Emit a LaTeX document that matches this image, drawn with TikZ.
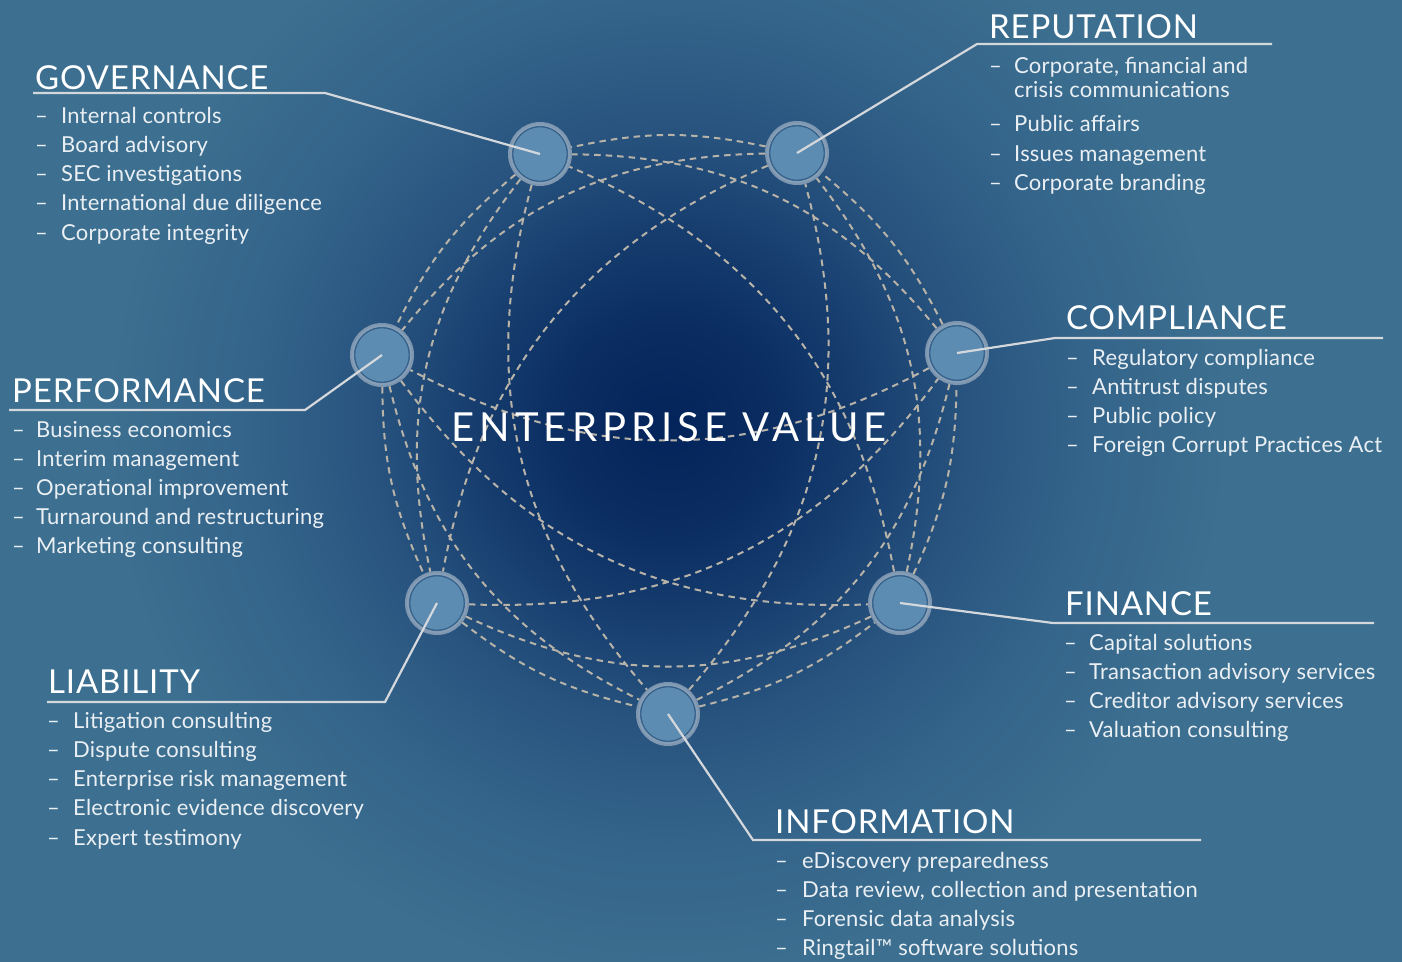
\documentclass[tikz,border=0pt]{standalone}
\usepackage{fontspec}
\setmainfont{Lato}
\pgfdeclarelayer{bgl}
\pgfdeclarelayer{edgel}
\pgfsetlayers{bgl,edgel,main}
\definecolor{bgout}{HTML}{3C6F90}
\definecolor{bgc0}{HTML}{03245A}
\definecolor{bgc1}{HTML}{0A2C61}
\definecolor{bgc2}{HTML}{173E6F}
\definecolor{bgc3}{HTML}{28547F}
\definecolor{bgc4}{HTML}{34648A}
\definecolor{hubfill}{HTML}{5D8CB2}
\definecolor{hubdark}{HTML}{2C5882}
\definecolor{hubring}{HTML}{8DA2B8}
\definecolor{dashc}{HTML}{B8B3A9}
\definecolor{leadc}{HTML}{D4D7DB}
\definecolor{txtc}{HTML}{EAEFF4}
\pgfdeclareradialshading{evbg}{\pgfpoint{0bp}{0bp}}{color(0bp)=(bgc0); color(3.9bp)=(bgc1); color(7.8bp)=(bgc2); color(11.7bp)=(bgc3); color(16.4bp)=(bgc4); color(21.9bp)=(bgout); color(25bp)=(bgout); color(50bp)=(bgout)}
\begin{document}
\begin{tikzpicture}[x=1pt,y=1pt,
  hub/.style={circle, minimum size=60pt, inner sep=0pt, fill=hubfill, draw=hubring, draw opacity=0.85, line width=4pt,
    path picture={\draw[hubdark, line width=1.6pt] (path picture bounding box.center) circle (27.5pt);}},
  edge/.style={draw=dashc, line width=2pt, dash pattern=on 6.5pt off 5pt},
  leader/.style={draw=leadc, line width=2.2pt, line join=miter},
  ttl/.style={anchor=base west, inner sep=0pt, text=white, font=\fontsize{33}{33}\selectfont\addfontfeatures{LetterSpace=2.5}},
  item/.style={anchor=base west, inner sep=0pt, text=txtc, font=\fontsize{22}{22}\selectfont\addfontfeatures{LetterSpace=1}},
  ev/.style={inner sep=0pt, text=white, font=\fontsize{40}{40}\selectfont\addfontfeatures{LetterSpace=12.5}}
]
\useasboundingbox (0,0) rectangle (1402,-961);
\begin{pgfonlayer}{bgl}
\fill[bgout] (-2,2) rectangle (1404,-963);
\shade[shading=evbg] (668,-425) circle (640);
\end{pgfonlayer}

% hubs
\node[hub] (inf)  at (668,-714) {};
\node[hub] (fin)  at (900,-603) {};
\node[hub] (comp) at (957,-353) {};
\node[hub] (rep)  at (797,-153) {};
\node[hub] (gov)  at (540,-154) {};
\node[hub] (perf) at (382,-355) {};
\node[hub] (lia)  at (437,-603) {};

% dashed connections
\begin{pgfonlayer}{edgel}
\foreach \a/\b in {inf/fin, fin/comp, comp/rep, rep/gov, gov/perf, perf/lia, lia/inf}
  \draw[edge] (\a) to[bend right=12] (\b);
\foreach \a/\b in {inf/comp, fin/rep, comp/gov, rep/perf, gov/lia, perf/inf, lia/fin}
  \draw[edge] (\a) to[bend right=25] (\b);
\foreach \a/\b in {inf/rep, fin/gov, rep/lia, gov/inf, perf/fin, lia/comp}
  \draw[edge] (\a) to[bend right=28] (\b);
\draw[edge] (comp) to[bend left=28] (perf);
\end{pgfonlayer}

\node[ev] (evtext) at (669,-427) {ENTERPRISE VALUE};

% leader corners
\coordinate (govk) at (325,-93);   \coordinate (gove) at (33,-93);
\coordinate (repk) at (977,-44);   \coordinate (repe) at (1272,-44);
\coordinate (compk) at (1055,-338); \coordinate (compe) at (1383,-338);
\coordinate (fink) at (1053,-623); \coordinate (fine) at (1374,-623);
\coordinate (infk) at (753,-840);  \coordinate (infe) at (1201,-840);
\coordinate (liak) at (385,-702);  \coordinate (liae) at (47,-702);
\coordinate (perfk) at (305,-410); \coordinate (perfe) at (9,-410);
\draw[leader] (gov.center) -- (govk) -- (gove);
\draw[leader] (rep.center) -- (repk) -- (repe);
\draw[leader] (comp.center) -- (compk) -- (compe);
\draw[leader] (fin.center) -- (fink) -- (fine);
\draw[leader] (inf.center) -- (infk) -- (infe);
\draw[leader] (lia.center) -- (liak) -- (liae);
\draw[leader] (perf.center) -- (perfk) -- (perfe);

% GOVERNANCE
\node[ttl] (govt) at (35,-89) {GOVERNANCE};
\foreach \t [count=\i] in {Internal controls, Board advisory, SEC investigations, International due diligence, Corporate integrity}{
  \node[item] (govd\i) at (35,{-123-29.3*(\i-1)}) {\textendash};
  \node[item] (govi\i) at (61,{-123-29.3*(\i-1)}) {\t};
}

% REPUTATION
\node[ttl] (rept) at (989,-38) {REPUTATION};
\node[item] (repd1) at (989,-73) {\textendash};
\node[item] (repi1) at (1014,-73) {Corporate, financial and};
\node[item] (repi1b) at (1014,-97) {crisis communications};
\node[item] (repd2) at (989,-131) {\textendash};
\node[item] (repi2) at (1014,-131) {Public affairs};
\node[item] (repd3) at (989,-161) {\textendash};
\node[item] (repi3) at (1014,-161) {Issues management};
\node[item] (repd4) at (989,-190) {\textendash};
\node[item] (repi4) at (1014,-190) {Corporate branding};

% COMPLIANCE
\node[ttl] (compt) at (1066,-329) {COMPLIANCE};
\foreach \t [count=\i] in {Regulatory compliance, Antitrust disputes, Public policy, Foreign Corrupt Practices Act}{
  \node[item] (compd\i) at (1066,{-365-29.3*(\i-1)}) {\textendash};
  \node[item] (compi\i) at (1092,{-365-29.3*(\i-1)}) {\t};
}

% FINANCE
\node[ttl] (fint) at (1065,-615) {FINANCE};
\foreach \t [count=\i] in {Capital solutions, Transaction advisory services, Creditor advisory services, Valuation consulting}{
  \node[item] (find\i) at (1064,{-650-29.2*(\i-1)}) {\textendash};
  \node[item] (fini\i) at (1089,{-650-29.2*(\i-1)}) {\t};
}

% INFORMATION
\node[ttl] (inft) at (775,-833) {INFORMATION};
\foreach \t [count=\i] in {eDiscovery preparedness, {Data review, collection and presentation}, Forensic data analysis, Ringtail™ software solutions}{
  \node[item] (infd\i) at (775,{-868-29.3*(\i-1)}) {\textendash};
  \node[item] (infi\i) at (802,{-868-29.3*(\i-1)}) {\t};
}

% LIABILITY
\node[ttl] (liat) at (48,-693) {LIABILITY};
\foreach \t [count=\i] in {Litigation consulting, Dispute consulting, Enterprise risk management, Electronic evidence discovery, Expert testimony}{
  \node[item] (liad\i) at (47,{-728-29.3*(\i-1)}) {\textendash};
  \node[item] (liai\i) at (73,{-728-29.3*(\i-1)}) {\t};
}

% PERFORMANCE
\node[ttl] (perft) at (12,-402) {PERFORMANCE};
\foreach \t [count=\i] in {Business economics, Interim management, Operational improvement, Turnaround and restructuring, Marketing consulting}{
  \node[item] (perfd\i) at (12,{-437-29.1*(\i-1)}) {\textendash};
  \node[item] (perfi\i) at (36,{-437-29.1*(\i-1)}) {\t};
}
\end{tikzpicture}
\end{document}
